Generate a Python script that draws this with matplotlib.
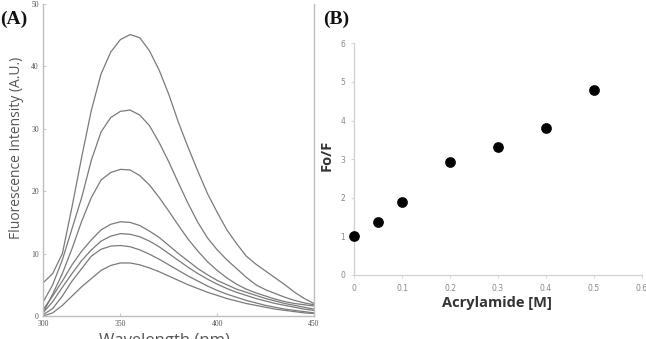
import matplotlib
matplotlib.use("Agg")
import matplotlib.pyplot as plt

# ---------------- Panel A data (wavelength grid, nm) ----------------
wavelength = [310, 315, 320, 325, 330, 335, 340, 345, 350, 355, 360, 365, 370, 375,
              380, 385, 390, 395, 400, 405, 410, 415, 420, 425, 430, 435, 440, 445, 450]

spec_1 = [5.3, 6.8, 10.0, 17.5, 25.5, 33.0, 38.8, 42.3, 44.3, 45.1, 44.6, 42.5, 39.4, 35.5,
          31.0, 27.0, 23.2, 19.6, 16.6, 13.8, 11.6, 9.6, 8.3, 7.2, 6.1, 5.0, 3.8, 2.8, 2.0]
spec_2 = [2.2, 5.0, 9.0, 14.0, 19.0, 25.0, 29.5, 31.8, 32.8, 33.0, 32.2, 30.5, 27.8, 24.7,
          21.3, 18.0, 15.0, 12.5, 10.6, 9.0, 7.6, 6.2, 5.0, 4.2, 3.6, 3.0, 2.5, 2.1, 1.8]
spec_3 = [0.5, 3.5, 6.8, 10.8, 15.2, 19.0, 21.8, 23.0, 23.5, 23.4, 22.5, 21.0, 19.0, 16.8,
          14.5, 12.3, 10.4, 8.7, 7.3, 6.1, 5.1, 4.3, 3.7, 3.2, 2.7, 2.3, 2.0, 1.8, 1.6]
spec_4 = [1.0, 3.2, 5.6, 8.2, 10.4, 12.2, 13.8, 14.7, 15.1, 15.0, 14.5, 13.6, 12.6, 11.3,
          10.0, 8.8, 7.6, 6.6, 5.7, 5.0, 4.3, 3.8, 3.3, 2.8, 2.4, 2.0, 1.7, 1.4, 1.1]
spec_5 = [0.5, 2.3, 4.6, 6.8, 8.9, 10.6, 12.0, 12.8, 13.2, 13.1, 12.7, 12.0, 11.1, 10.0,
          8.9, 7.8, 6.8, 5.9, 5.1, 4.4, 3.8, 3.3, 2.8, 2.4, 2.0, 1.7, 1.4, 1.1, 0.9]
spec_6 = [0.2, 1.2, 3.2, 5.6, 7.6, 9.6, 10.7, 11.2, 11.3, 11.1, 10.6, 9.9, 9.1, 8.2,
          7.3, 6.4, 5.6, 4.8, 4.1, 3.5, 3.0, 2.5, 2.1, 1.7, 1.4, 1.1, 0.9, 0.7, 0.5]
spec_7 = [0.0, 0.5, 1.7, 3.2, 4.7, 6.0, 7.3, 8.1, 8.5, 8.5, 8.2, 7.7, 7.1, 6.4,
          5.7, 5.0, 4.4, 3.8, 3.3, 2.8, 2.4, 2.0, 1.7, 1.4, 1.1, 0.9, 0.7, 0.5, 0.4]

a_xtick_pos = [310, 350, 400, 450]
a_xtick_labels = ["300", "350", "400", "450"]
a_yticks = [0, 10, 20, 30, 40, 50]

# ---------------- Panel B data ----------------
acrylamide = [0.0, 0.05, 0.1, 0.2, 0.3, 0.4, 0.5]
fo_f = [1.01, 1.36, 1.90, 2.92, 3.32, 3.80, 4.79]
b_xticks = [0, 0.1, 0.2, 0.3, 0.4, 0.5, 0.6]
b_xtick_labels = ["0", "0.1", "0.2", "0.3", "0.4", "0.5", "0.6"]
b_yticks = [0, 1, 2, 3, 4, 5, 6]

W, H = 646, 339
fig = plt.figure(figsize=(W / 100, H / 100), dpi=100)
fig.patch.set_facecolor("white")

# ---------------- Panel A ----------------
axA = fig.add_axes([43 / W, (H - 316) / H, 271 / W, 312 / H])
for s in [spec_1, spec_2, spec_3, spec_4, spec_5, spec_6, spec_7]:
    axA.plot(wavelength, s, color="#7a7a7a", lw=0.9)
axA.set_xlim(310, 450)
axA.set_ylim(0, 50)
axA.spines["top"].set_visible(False)
for sp in ["left", "bottom", "right"]:
    axA.spines[sp].set_color("#bdbdbd")
    axA.spines[sp].set_linewidth(1.0)
axA.set_xticks(a_xtick_pos)
axA.set_xticklabels(a_xtick_labels)
axA.set_yticks(a_yticks)
axA.tick_params(axis="both", direction="in", length=2, width=0.6, color="#bdbdbd",
                labelsize=5.5, labelcolor="#555555", pad=3)
for lab in axA.get_xticklabels() + axA.get_yticklabels():
    lab.set_family("Liberation Serif")

fig.text(17 / W, 1 - 148 / H, "Fluorescence Intensity (A.U.)", rotation=90,
         ha="center", va="center", fontsize=10, color="#555555", family="Open Sans")
fig.text(164 / W, 1 - 333 / H, "Wavelength (nm)", ha="center", va="top",
         fontsize=12, color="#555555", family="Open Sans")
fig.text(0 / W, 1 - 24 / H, "(A)", ha="left", va="baseline", fontsize=14,
         fontweight="bold", family="Liberation Serif", color="#111111")

# ---------------- Panel B ----------------
axB = fig.add_axes([354.3 / W, (H - 275) / H, 287.4 / W, 231.7 / H])
axB.scatter(acrylamide, fo_f, s=45, color="black", zorder=3, clip_on=False)
axB.set_xlim(0, 0.6)
axB.set_ylim(0, 6)
axB.spines["top"].set_visible(False)
axB.spines["right"].set_visible(False)
for sp in ["left", "bottom"]:
    axB.spines[sp].set_color("#d0d0d0")
    axB.spines[sp].set_linewidth(0.9)
axB.set_xticks(b_xticks)
axB.set_xticklabels(b_xtick_labels)
axB.set_yticks(b_yticks)
axB.tick_params(axis="both", direction="out", length=2.5, width=0.6, color="#d0d0d0",
                labelsize=5.5, labelcolor="#888888", pad=4)

fig.text(327 / W, 1 - 155 / H, "Fo/F", rotation=90, ha="center", va="center",
         fontsize=10.5, fontweight="bold", color="#333333", family="Open Sans")
fig.text(497 / W, 1 - 303 / H, "Acrylamide [M]", ha="center", va="center",
         fontsize=10.5, fontweight="bold", color="#333333", family="Open Sans")
fig.text(323 / W, 1 - 24 / H, "(B)", ha="left", va="baseline", fontsize=14,
         fontweight="bold", family="Liberation Serif", color="#111111")

fig.savefig("out.png", dpi=100, facecolor="white")
